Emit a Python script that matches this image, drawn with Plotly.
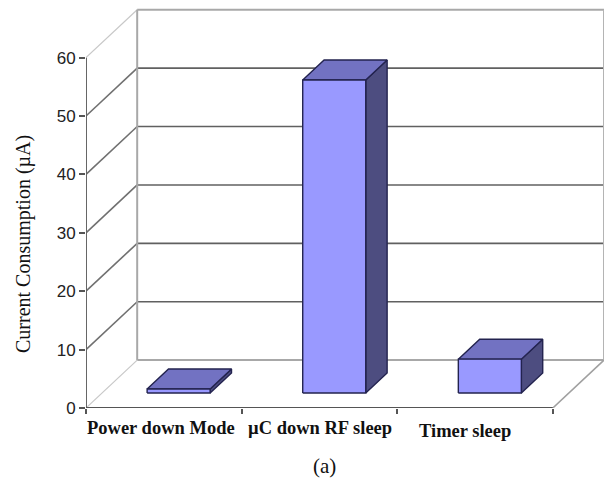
import plotly.graph_objects as go

categories = ["Power down Mode", "µC down RF sleep", "Timer sleep"]
values = [0.7, 53.6, 5.8]
y_ticks = [0, 10, 20, 30, 40, 50, 60]
label_x = [0.484, 1.506, 2.435]
label_shift = [-20, -20, -23]

DX, DY = 0.329, 8.2      # oblique projection of the chart depth, in axis units
BAR_D0, BAR_D1 = 0.3125, 0.73
BAR_L, BAR_W = 0.29, 0.405
N = len(categories)
YMAX = max(y_ticks)


def proj(x, y, d):
    return x + d * DX, y + d * DY


fig = go.Figure()


def poly(points, fill=None, color="#000", width=1.0):
    xs, ys = zip(*points)
    fig.add_trace(go.Scatter(
        x=list(xs), y=list(ys), mode="lines",
        fill="toself" if fill else None, fillcolor=fill,
        line=dict(color=color, width=width),
        hoverinfo="skip", showlegend=False))


# back wall gridlines and side-wall diagonals
for v in y_ticks:
    edge = v in (0, YMAX)
    poly([proj(0, v, 1), proj(N, v, 1)], color="#a8a8a8" if edge else "#606060",
         width=2 if edge else 1.6)
    poly([proj(0, v, 0), proj(0, v, 1)], color="#c8c8c8" if edge else "#707070",
         width=1.2 if edge else 1.6)
# wall verticals
poly([proj(0, 0, 1), proj(0, YMAX, 1)], color="#a8a8a8", width=2)
poly([proj(N, 0, 1), proj(N, YMAX, 1)], color="#b4b4b4", width=2)
# floor right edge
poly([proj(N, 0, 0), proj(N, 0, 1)], color="#a0a0a0", width=1.6)
# front axes
poly([(0, 0), (0, YMAX)], color="#666666", width=2)
poly([(0, 0), (N, 0)], color="#555555", width=2)

# bars
for i, v in enumerate(values):
    x0, x1 = i + BAR_L, i + BAR_L + BAR_W
    outline = "#23234f"
    poly([proj(x1, 0, BAR_D0), proj(x1, 0, BAR_D1), proj(x1, v, BAR_D1),
          proj(x1, v, BAR_D0), proj(x1, 0, BAR_D0)], fill="#4d4d80", color=outline, width=1.4)
    poly([proj(x0, v, BAR_D0), proj(x1, v, BAR_D0), proj(x1, v, BAR_D1),
          proj(x0, v, BAR_D1), proj(x0, v, BAR_D0)], fill="#7272c2", color=outline, width=1.4)
    poly([proj(x0, 0, BAR_D0), proj(x1, 0, BAR_D0), proj(x1, v, BAR_D0),
          proj(x0, v, BAR_D0), proj(x0, 0, BAR_D0)], fill="#9999ff", color=outline, width=1.4)

annotations = [
    dict(x=lx, y=0, xref="x", yref="y", text=f"<b>{c}</b>", showarrow=False,
         yshift=s, yanchor="middle", xanchor="center",
         font=dict(family="Liberation Serif", size=18.5, color="#111"))
    for c, lx, s in zip(categories, label_x, label_shift)
]
annotations += [
    dict(x=23, y=244, xref="paper", yref="paper", text="Current Consumption (µA)",
         showarrow=False, textangle=-90, xanchor="center", yanchor="middle",
         font=dict(family="Liberation Serif", size=20, color="#111")),
    dict(x=324, y=466, xref="paper", yref="paper", text="(a)", showarrow=False,
         xanchor="center", yanchor="middle",
         font=dict(family="Liberation Serif", size=21, color="#111")),
]
W, H = 606, 479
L, R, T, B = 86, 2, 8, 71
for a in annotations:
    if a["xref"] == "paper":
        a["x"] = (a["x"] - L) / (W - L - R)
        a["y"] = 1 - (a["y"] - T) / (H - T - B)

fig.update_layout(
    width=W, height=H, autosize=False,
    margin=dict(l=L, r=R, t=T, b=B),
    paper_bgcolor="white", plot_bgcolor="white",
    showlegend=False,
    annotations=annotations,
    xaxis=dict(range=[0, N + DX], showgrid=False, zeroline=False, showline=False,
               tickmode="array", tickvals=list(range(N + 1)),
               ticktext=[""] * (N + 1), ticks="outside", ticklen=5, tickwidth=1.5,
               tickcolor="#555555"),
    yaxis=dict(range=[0, 68.5], showgrid=False, zeroline=False, showline=False,
               tickmode="array", tickvals=y_ticks, ticks="outside", ticklen=6,
               tickwidth=1.5, tickcolor="#555555",
               tickfont=dict(family="Liberation Sans", size=17, color="#222")),
)
fig.write_html("out.html", config={"displayModeBar": False},
               post_script="document.body.style.margin='0';document.body.style.overflow='hidden';")
